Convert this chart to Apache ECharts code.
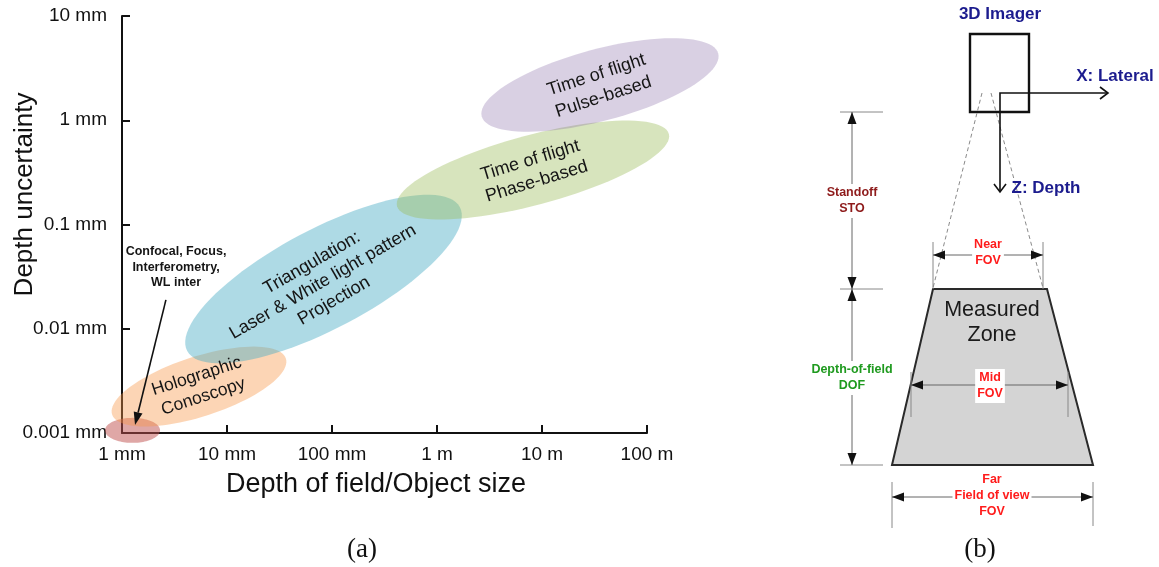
<!DOCTYPE html>
<html>
<head>
<meta charset="utf-8">
<script src="https://cdn.jsdelivr.net/npm/echarts@6/dist/echarts.min.js"></script>
<style>
html,body{margin:0;padding:0;background:#fff;}
#chart{width:1159px;height:567px;}
</style>
</head>
<body>
<div id="chart"></div>
<script>
// ---------- DATA ----------
var xTickLabels = ['1 mm', '10 mm', '100 mm', '1 m', '10 m', '100 m'];
var yTickLabels = ['0.001 mm', '0.01 mm', '0.1 mm', '1 mm', '10 mm'];

// Technology regions (ellipses in log-log space)
var regionNames   = ['Confocal', 'Holographic', 'Triangulation', 'ToF phase', 'ToF pulse'];
var regionCenterX = [1.26, 5.41, 83, 8200, 35650];          // mm (depth of field)
var regionCenterY = [0.00106, 0.00279, 0.030, 0.333, 2.18]; // mm (uncertainty)
var regionSemiMajor = [0.262, 0.87, 1.47, 1.34, 1.166];      // decades
var regionSemiMinor = [0.12, 0.287, 0.478, 0.335, 0.344];    // decades
var regionAngle     = [0, 18, 28, 15, 15];                   // degrees

// Region labels
var labelTexts = ['Time of flight\nPulse-based', 'Time of flight\nPhase-based',
                  'Triangulation:\nLaser & White light pattern\nProjection',
                  'Holographic\nConoscopy', 'Confocal, Focus,\nInterferometry,\nWL inter'];
var labelX   = [35650, 8300, 82, 5.53, 3.27];
var labelY   = [2.13, 0.326, 0.0281, 0.00279, 0.0387];
var labelRot = [18, 17, 30, 18, 0];

// Annotation arrow (from, to)
var arrowFrom = [2.62, 0.0189];
var arrowTo   = [1.33, 0.00119];

// ---------- STYLE ----------
var regionColors = ['rgba(192,80,77,0.5)', 'rgba(247,150,70,0.4)', 'rgba(75,172,198,0.45)',
                    'rgba(155,187,89,0.4)', 'rgba(128,100,162,0.3)'];
var labelSizes = [18, 18, 18, 17.5, 12.5];
var labelLH    = [23, 22, 22, 21.5, 15.5];
var labelWeight = ['normal', 'normal', 'normal', 'normal', 'bold'];
var FONT = '"Liberation Sans", Arial, sans-serif';

var regionData = regionNames.map(function (n, i) {
  return [regionCenterX[i], regionCenterY[i], regionSemiMajor[i], regionSemiMinor[i], regionAngle[i]];
});
var labelData = labelTexts.map(function (t, i) { return [labelX[i], labelY[i], labelRot[i]]; });

function renderEllipse(params, api) {
  var cx = Math.log10(api.value(0)), cy = Math.log10(api.value(1));
  var a = api.value(2), b = api.value(3), ang = api.value(4) * Math.PI / 180;
  var pts = [];
  for (var i = 0; i < 96; i++) {
    var t = i / 96 * 2 * Math.PI;
    var u = a * Math.cos(t), v = b * Math.sin(t);
    var lx = cx + u * Math.cos(ang) - v * Math.sin(ang);
    var ly = cy + u * Math.sin(ang) + v * Math.cos(ang);
    pts.push(api.coord([Math.pow(10, lx), Math.pow(10, ly)]));
  }
  return { type: 'polygon', shape: { points: pts }, style: { fill: regionColors[params.dataIndex] } };
}

function renderLabel(params, api) {
  var i = params.dataIndex;
  var p = api.coord([api.value(0), api.value(1)]);
  return {
    type: 'text', x: p[0], y: p[1], rotation: api.value(2) * Math.PI / 180,
    style: {
      text: labelTexts[i], fill: '#151515', fontSize: labelSizes[i], fontWeight: labelWeight[i],
      fontFamily: FONT, align: 'center', verticalAlign: 'middle', lineHeight: labelLH[i]
    }
  };
}

function renderArrow(params, api) {
  var p1 = api.coord([api.value(0), api.value(1)]);
  var p2 = api.coord([api.value(2), api.value(3)]);
  var dx = p2[0] - p1[0], dy = p2[1] - p1[1], L = Math.sqrt(dx * dx + dy * dy);
  var ux = dx / L, uy = dy / L, hl = 13, hw = 4.5;
  var bx = p2[0] - ux * hl, by = p2[1] - uy * hl;
  return {
    type: 'group', children: [
      { type: 'line', shape: { x1: p1[0], y1: p1[1], x2: bx, y2: by }, style: { stroke: '#111', lineWidth: 1.6 } },
      { type: 'polygon', shape: { points: [[p2[0], p2[1]], [bx - uy * hw, by + ux * hw], [bx + uy * hw, by - ux * hw]] }, style: { fill: '#111' } }
    ]
  };
}

// ---------- Right panel schematic ----------
var G = [];
var NAVY = '#1c1c8e', DRED = '#8e1b1b', RED = '#ff1c1c', GREEN = '#1f9a1f';
function ln(x1, y1, x2, y2, stroke, w, dash, z) {
  G.push({ type: 'line', z: z || 10, shape: { x1: x1, y1: y1, x2: x2, y2: y2 }, style: { stroke: stroke, lineWidth: w, lineDash: dash || null } });
}
function head(tx, ty, dx, dy) {
  var hl = 12, hw = 4.5, bx = tx - dx * hl, by = ty - dy * hl;
  G.push({ type: 'polygon', z: 12, shape: { points: [[tx, ty], [bx - dy * hw, by + dx * hw], [bx + dy * hw, by - dx * hw]] }, style: { fill: '#111' } });
}
function dim(x1, y1, x2, y2) {
  ln(x1, y1, x2, y2, '#666', 1);
  var dx = x2 - x1, dy = y2 - y1, L = Math.sqrt(dx * dx + dy * dy); dx /= L; dy /= L;
  head(x1, y1, -dx, -dy); head(x2, y2, dx, dy);
}
function txt(x, y, text, color, size, weight, lh, bg, family) {
  G.push({ type: 'text', z: 20, x: x, y: y, style: {
    text: text, fill: color, fontSize: size, fontWeight: weight, fontFamily: family || FONT,
    align: 'center', verticalAlign: 'middle', lineHeight: lh,
    backgroundColor: bg || null, padding: bg ? [1, 2, 1, 2] : 0 } });
}
// imager
txt(1000, 14, '3D Imager', NAVY, 17, 'bold', 20);
G.push({ type: 'rect', z: 10, shape: { x: 970, y: 34, width: 59, height: 78 }, style: { fill: 'none', stroke: '#111', lineWidth: 2.4 } });
// dashed view cone
ln(982, 93, 933, 288, '#8a8a8a', 1, [4, 3]);
ln(991, 93, 1043, 288, '#8a8a8a', 1, [4, 3]);
// coordinate axes
G.push({ type: 'polyline', z: 11, shape: { points: [[1108, 93], [1000, 93], [1000, 192]] }, style: { stroke: '#111', lineWidth: 1.6, fill: null } });
G.push({ type: 'polyline', z: 11, shape: { points: [[1100, 87], [1108, 93], [1100, 99]] }, style: { stroke: '#111', lineWidth: 1.6, fill: null } });
G.push({ type: 'polyline', z: 11, shape: { points: [[994, 184], [1000, 192], [1006, 184]] }, style: { stroke: '#111', lineWidth: 1.6, fill: null } });
txt(1115, 76, 'X: Lateral', NAVY, 17, 'bold', 20);
txt(1046, 188, 'Z: Depth', NAVY, 17, 'bold', 20);
// measured zone
G.push({ type: 'polygon', z: 9, shape: { points: [[933, 289], [1047, 289], [1093, 465], [892, 465]] }, style: { fill: '#d4d4d4', stroke: '#2a2a2a', lineWidth: 2 } });
txt(992, 323, 'Measured\nZone', '#1a1a1a', 21.5, 'normal', 25);
// extension lines
ln(840, 112, 883, 112, '#888', 1);
ln(840, 289, 883, 289, '#888', 1);
ln(840, 465, 883, 465, '#888', 1);
ln(933, 242, 933, 289, '#888', 1);
ln(1043, 242, 1043, 289, '#888', 1);
ln(911, 372, 911, 417, '#888', 1);
ln(1068, 372, 1068, 417, '#888', 1);
ln(892, 482, 892, 528, '#888', 1);
ln(1093, 482, 1093, 526, '#888', 1);
// dimension arrows
dim(852, 112, 852, 289);
dim(852, 289, 852, 465);
dim(933, 255, 1043, 255);
dim(911, 385, 1068, 385);
dim(892, 497, 1093, 497);
// dimension texts
txt(852, 201, 'Standoff\nSTO', DRED, 12.5, 'bold', 16, '#fff');
txt(852, 378, 'Depth-of-field\nDOF', GREEN, 12.5, 'bold', 16, '#fff');
txt(988, 253, 'Near\nFOV', RED, 12.5, 'bold', 16, '#fff');
txt(990, 386, 'Mid\nFOV', RED, 12.5, 'bold', 16, '#fff');
txt(992, 496, 'Far\nField of view\nFOV', RED, 12.5, 'bold', 16, '#fff');
// panel labels
txt(362, 550, '(a)', '#111', 27, 'normal', 30, null, '"Liberation Serif", "Times New Roman", serif');
txt(980, 550, '(b)', '#111', 27, 'normal', 30, null, '"Liberation Serif", "Times New Roman", serif');

var chart = echarts.init(document.getElementById('chart'), null, { renderer: 'canvas' });
chart.setOption({
  animation: false,
  backgroundColor: '#fff',
  grid: { left: 122, top: 16, width: 525, height: 417, containLabel: false, outerBoundsMode: 'none' },
  xAxis: {
    type: 'log', logBase: 10, min: 1, max: 100000,
    name: 'Depth of field/Object size', nameLocation: 'middle', nameGap: 38, nameMoveOverlap: false,
    nameTextStyle: { fontSize: 27, color: '#111', fontFamily: FONT, padding: [0, 17, 0, 0] },
    axisLine: { lineStyle: { color: '#111', width: 2 } },
    axisTick: { inside: true, length: 8, lineStyle: { color: '#111', width: 2 } },
    axisLabel: { fontSize: 19, color: '#111', fontFamily: FONT, margin: 12,
      formatter: function (v) { return xTickLabels[Math.round(Math.log10(v))]; } },
    splitLine: { show: false }, minorTick: { show: false }
  },
  yAxis: {
    type: 'log', logBase: 10, min: 0.001, max: 10,
    name: 'Depth uncertainty', nameLocation: 'middle', nameGap: 84, nameRotate: 90, nameMoveOverlap: false,
    nameTextStyle: { fontSize: 26, color: '#111', fontFamily: FONT, padding: [0, 0, 0, 60] },
    axisLine: { lineStyle: { color: '#111', width: 2 } },
    axisTick: { inside: true, length: 8, lineStyle: { color: '#111', width: 2 } },
    axisLabel: { fontSize: 19, color: '#111', fontFamily: FONT, margin: 15,
      formatter: function (v) { return yTickLabels[Math.round(Math.log10(v)) + 3]; } },
    splitLine: { show: false }, minorTick: { show: false }
  },
  series: [
    { type: 'custom', clip: false, renderItem: renderEllipse, data: regionData, encode: { x: 0, y: 1 }, z: 3, silent: true },
    { type: 'custom', clip: false, renderItem: renderArrow, data: [[arrowFrom[0], arrowFrom[1], arrowTo[0], arrowTo[1]]], encode: { x: 0, y: 1 }, z: 4, silent: true },
    { type: 'custom', clip: false, renderItem: renderLabel, data: labelData, encode: { x: 0, y: 1 }, z: 5, silent: true }
  ],
  graphic: G
});
</script>
</body>
</html>
